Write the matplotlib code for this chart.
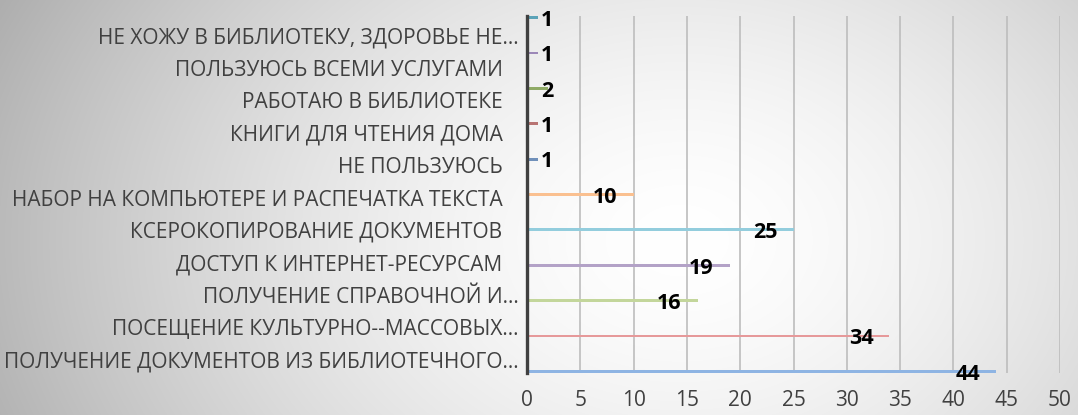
import numpy as np
import matplotlib
matplotlib.use("Agg")
import matplotlib.pyplot as plt
from matplotlib.transforms import ScaledTranslation

# ---- data (bottom to top) ----
categories = [
    "ПОЛУЧЕНИЕ ДОКУМЕНТОВ ИЗ БИБЛИОТЕЧНОГО…",
    "ПОСЕЩЕНИЕ КУЛЬТУРНО--МАССОВЫХ…",
    "ПОЛУЧЕНИЕ СПРАВОЧНОЙ И…",
    "ДОСТУП К ИНТЕРНЕТ-РЕСУРСАМ",
    "КСЕРОКОПИРОВАНИЕ ДОКУМЕНТОВ",
    "НАБОР НА КОМПЬЮТЕРЕ И РАСПЕЧАТКА ТЕКСТА",
    "НЕ ПОЛЬЗУЮСЬ",
    "КНИГИ ДЛЯ ЧТЕНИЯ ДОМА",
    "РАБОТАЮ В БИБЛИОТЕКЕ",
    "ПОЛЬЗУЮСЬ ВСЕМИ УСЛУГАМИ",
    "НЕ ХОЖУ В БИБЛИОТЕКУ, ЗДОРОВЬЕ НЕ…",
]
values = [44, 34, 16, 19, 25, 10, 1, 1, 2, 1, 1]
bar_colors = ["#8EB4E3", "#E6999A", "#C3D69B", "#B3A2C7", "#93CDDD", "#FAC090",
              "#7090BA", "#B87473", "#8FAA66", "#9C88B8", "#5BA3B8"]
x_ticks = [0, 5, 10, 15, 20, 25, 30, 35, 40, 45, 50]

W, H = 1078, 415
fig = plt.figure(figsize=(W / 100, H / 100), dpi=100)

# background radial gradient
yy, xx = np.mgrid[0:H, 0:W]
d = np.sqrt(((xx - 680) / 700.0) ** 2 + ((yy - 240) / 520.0) ** 2)
g = 255 - 72 * np.clip(d, 0, 1.3) ** 1.6
g = np.clip(g, 0, 255) / 255.0
bg = np.dstack([g, g, g])
fig.figimage(bg, xo=0, yo=0, origin="upper", zorder=-10)

ax = fig.add_axes([527 / W, 1 - 373 / H, (1060 - 527) / W, (373 - 16) / H])
ax.patch.set_alpha(0)
ax.set_zorder(5)

n = len(categories)
idx = np.arange(n)
w = 0.09
ypos = idx + (idx - (n - 1) / 2) * w
ax.barh(ypos, values, height=w, color=bar_colors, zorder=3)

ax.set_xlim(0, 50)
ax.set_ylim(-0.5, n - 0.5)
ax.set_xticks(x_ticks)
ax.set_xticklabels([str(t) for t in x_ticks])
ax.grid(axis="x", color="#BDBDBD", linewidth=1.2, zorder=1)
ax.grid(axis="y", visible=False)
ax.set_axisbelow(True)

for s in ["top", "right", "bottom"]:
    ax.spines[s].set_visible(False)
ax.spines["left"].set_color("#404040")
ax.spines["left"].set_linewidth(2.4)
ax.spines["left"].set_zorder(4)

ax.tick_params(axis="both", length=0)
ax.tick_params(axis="x", pad=12, labelsize=15, labelcolor="#404040")
ax.set_yticks(idx)
ylabels = [c if c.endswith("…") else c + "   " for c in categories]
ax.set_yticklabels(ylabels, fontsize=15, color="#404040")
ax.tick_params(axis="y", pad=6)
for lab in ax.get_xticklabels() + ax.get_yticklabels():
    lab.set_fontfamily("Open Sans")
shift = ScaledTranslation(0, -3 / 100, fig.dpi_scale_trans)
for lab in ax.get_yticklabels():
    lab.set_transform(lab.get_transform() + shift)

for y, v in zip(ypos, values):
    lx = max(v - 2.65, 1.9)
    ax.annotate(str(v), xy=(lx, y), xytext=(0, -2), textcoords="offset points",
                ha="center", va="center", fontsize=15.5, fontweight="bold",
                family="Open Sans", color="black", zorder=5)

fig.savefig("out.png", dpi=100)
